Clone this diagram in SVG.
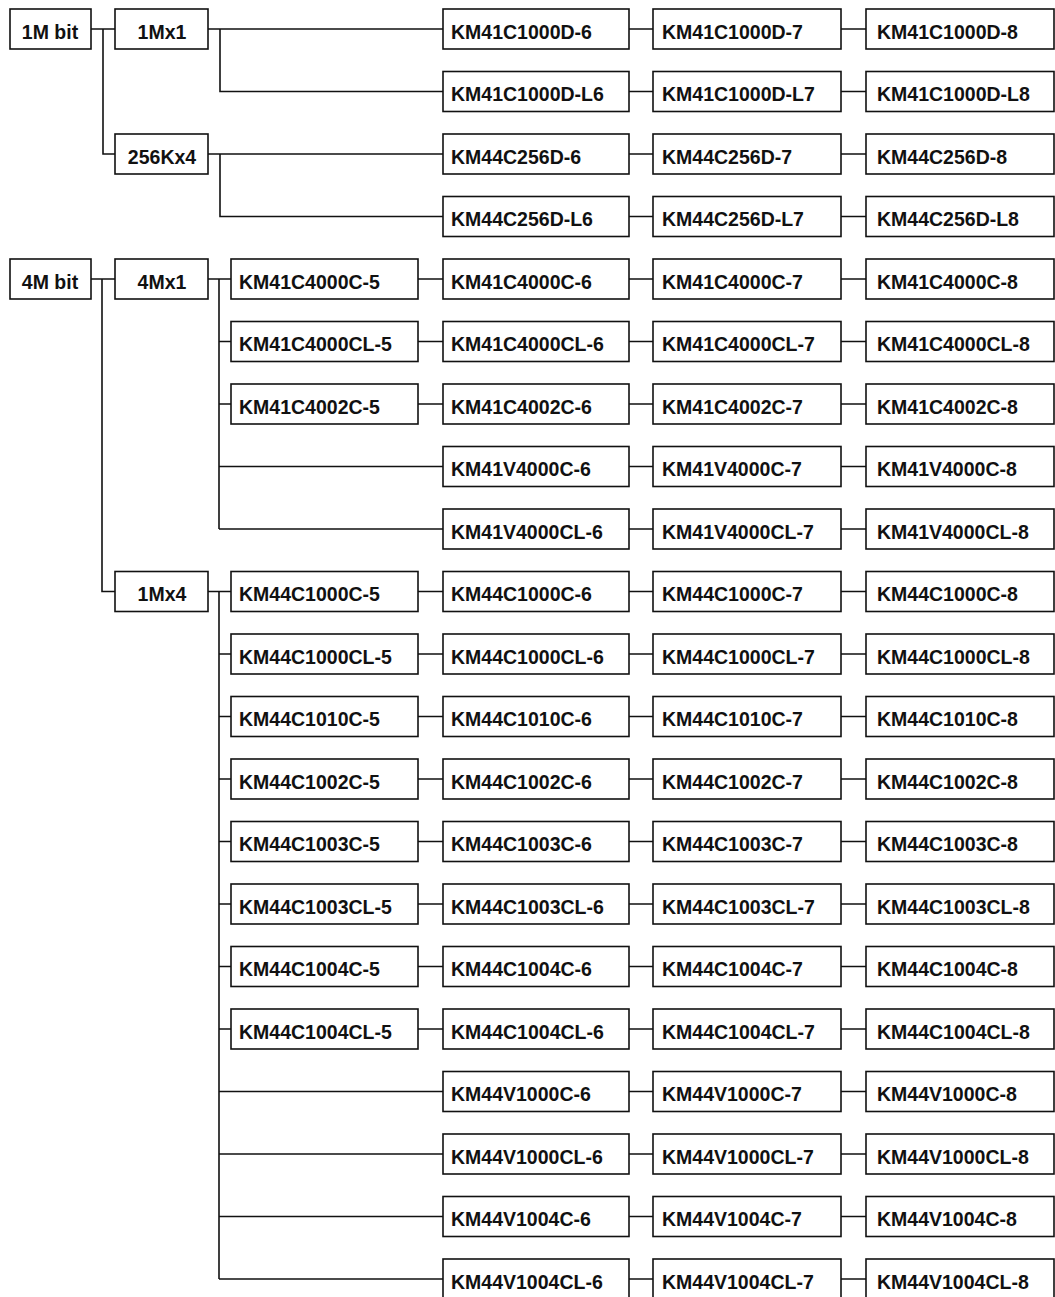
<svg xmlns="http://www.w3.org/2000/svg" width="1055" height="1297" viewBox="0 0 1055 1297">
<style>
rect{fill:#fff;stroke:#111;stroke-width:1.6}
text{font-family:"Liberation Sans",Arial,sans-serif;font-weight:bold;font-size:19.5px;fill:#111}
.c{text-anchor:middle}
#connectors path{fill:none;stroke:#111;stroke-width:1.6}
</style>
<rect x="0" y="0" width="1055" height="1297" style="stroke:none"/>
<g id="connectors">
<path d="M91 29H115M103 29V154H115M208 29H443M220 29V91.5H443M208 154H443M220 154V216.5H443"/>
<path d="M90 279H115M102 279V591.5H115M208 279H231M219 279V529M219 341.5H231M219 404H231M219 466.5H443M219 529H443"/>
<path d="M208 591.5H231M219 591.5V1279M219 654H231M219 716.5H231M219 779H231M219 841.5H231M219 904H231M219 966.5H231M219 1029H231M219 1091.5H443M219 1154H443M219 1216.5H443M219 1279H443"/>
<path d="M418 279H443M418 341.5H443M418 404H443M418 591.5H443M418 654H443M418 716.5H443M418 779H443M418 841.5H443M418 904H443M418 966.5H443M418 1029H443"/>
<path d="M629 29H653M629 91.5H653M629 154H653M629 216.5H653M629 279H653M629 341.5H653M629 404H653M629 466.5H653M629 529H653M629 591.5H653M629 654H653M629 716.5H653M629 779H653M629 841.5H653M629 904H653M629 966.5H653M629 1029H653M629 1091.5H653M629 1154H653M629 1216.5H653M629 1279H653"/>
<path d="M841 29H866M841 91.5H866M841 154H866M841 216.5H866M841 279H866M841 341.5H866M841 404H866M841 466.5H866M841 529H866M841 591.5H866M841 654H866M841 716.5H866M841 779H866M841 841.5H866M841 904H866M841 966.5H866M841 1029H866M841 1091.5H866M841 1154H866M841 1216.5H866M841 1279H866"/>
</g>
<g id="n1Mbit"><rect x="10" y="9" width="81" height="40"/><text class="c" x="50" y="38.5">1M bit</text></g>
<g id="n1Mx1"><rect x="115" y="9" width="93" height="40"/><text class="c" x="162" y="38.5">1Mx1</text></g>
<g id="n256Kx4"><rect x="115" y="134" width="93" height="40"/><text class="c" x="162" y="163.5">256Kx4</text></g>
<g id="n4Mbit"><rect x="10" y="259" width="81" height="40"/><text class="c" x="50" y="288.5">4M bit</text></g>
<g id="n4Mx1"><rect x="115" y="259" width="93" height="40"/><text class="c" x="162" y="288.5">4Mx1</text></g>
<g id="n1Mx4"><rect x="115" y="571.5" width="93" height="40"/><text class="c" x="162" y="601">1Mx4</text></g>

<g id="r0c1"><rect x="443" y="9" width="186" height="40"/><text x="451" y="38.5">KM41C1000D-6</text></g>
<g id="r0c2"><rect x="653" y="9" width="188" height="40"/><text x="662" y="38.5">KM41C1000D-7</text></g>
<g id="r0c3"><rect x="866" y="9" width="188" height="40"/><text x="877" y="38.5">KM41C1000D-8</text></g>
<g id="r1c1"><rect x="443" y="71.5" width="186" height="40"/><text x="451" y="101">KM41C1000D-L6</text></g>
<g id="r1c2"><rect x="653" y="71.5" width="188" height="40"/><text x="662" y="101">KM41C1000D-L7</text></g>
<g id="r1c3"><rect x="866" y="71.5" width="188" height="40"/><text x="877" y="101">KM41C1000D-L8</text></g>
<g id="r2c1"><rect x="443" y="134" width="186" height="40"/><text x="451" y="163.5">KM44C256D-6</text></g>
<g id="r2c2"><rect x="653" y="134" width="188" height="40"/><text x="662" y="163.5">KM44C256D-7</text></g>
<g id="r2c3"><rect x="866" y="134" width="188" height="40"/><text x="877" y="163.5">KM44C256D-8</text></g>
<g id="r3c1"><rect x="443" y="196.5" width="186" height="40"/><text x="451" y="226">KM44C256D-L6</text></g>
<g id="r3c2"><rect x="653" y="196.5" width="188" height="40"/><text x="662" y="226">KM44C256D-L7</text></g>
<g id="r3c3"><rect x="866" y="196.5" width="188" height="40"/><text x="877" y="226">KM44C256D-L8</text></g>

<g id="r4c0"><rect x="231" y="259" width="187" height="40"/><text x="239" y="288.5">KM41C4000C-5</text></g>
<g id="r4c1"><rect x="443" y="259" width="186" height="40"/><text x="451" y="288.5">KM41C4000C-6</text></g>
<g id="r4c2"><rect x="653" y="259" width="188" height="40"/><text x="662" y="288.5">KM41C4000C-7</text></g>
<g id="r4c3"><rect x="866" y="259" width="188" height="40"/><text x="877" y="288.5">KM41C4000C-8</text></g>
<g id="r5c0"><rect x="231" y="321.5" width="187" height="40"/><text x="239" y="351">KM41C4000CL-5</text></g>
<g id="r5c1"><rect x="443" y="321.5" width="186" height="40"/><text x="451" y="351">KM41C4000CL-6</text></g>
<g id="r5c2"><rect x="653" y="321.5" width="188" height="40"/><text x="662" y="351">KM41C4000CL-7</text></g>
<g id="r5c3"><rect x="866" y="321.5" width="188" height="40"/><text x="877" y="351">KM41C4000CL-8</text></g>
<g id="r6c0"><rect x="231" y="384" width="187" height="40"/><text x="239" y="413.5">KM41C4002C-5</text></g>
<g id="r6c1"><rect x="443" y="384" width="186" height="40"/><text x="451" y="413.5">KM41C4002C-6</text></g>
<g id="r6c2"><rect x="653" y="384" width="188" height="40"/><text x="662" y="413.5">KM41C4002C-7</text></g>
<g id="r6c3"><rect x="866" y="384" width="188" height="40"/><text x="877" y="413.5">KM41C4002C-8</text></g>
<g id="r7c1"><rect x="443" y="446.5" width="186" height="40"/><text x="451" y="476">KM41V4000C-6</text></g>
<g id="r7c2"><rect x="653" y="446.5" width="188" height="40"/><text x="662" y="476">KM41V4000C-7</text></g>
<g id="r7c3"><rect x="866" y="446.5" width="188" height="40"/><text x="877" y="476">KM41V4000C-8</text></g>
<g id="r8c1"><rect x="443" y="509" width="186" height="40"/><text x="451" y="538.5">KM41V4000CL-6</text></g>
<g id="r8c2"><rect x="653" y="509" width="188" height="40"/><text x="662" y="538.5">KM41V4000CL-7</text></g>
<g id="r8c3"><rect x="866" y="509" width="188" height="40"/><text x="877" y="538.5">KM41V4000CL-8</text></g>

<g id="r9c0"><rect x="231" y="571.5" width="187" height="40"/><text x="239" y="601">KM44C1000C-5</text></g>
<g id="r9c1"><rect x="443" y="571.5" width="186" height="40"/><text x="451" y="601">KM44C1000C-6</text></g>
<g id="r9c2"><rect x="653" y="571.5" width="188" height="40"/><text x="662" y="601">KM44C1000C-7</text></g>
<g id="r9c3"><rect x="866" y="571.5" width="188" height="40"/><text x="877" y="601">KM44C1000C-8</text></g>
<g id="r10c0"><rect x="231" y="634" width="187" height="40"/><text x="239" y="663.5">KM44C1000CL-5</text></g>
<g id="r10c1"><rect x="443" y="634" width="186" height="40"/><text x="451" y="663.5">KM44C1000CL-6</text></g>
<g id="r10c2"><rect x="653" y="634" width="188" height="40"/><text x="662" y="663.5">KM44C1000CL-7</text></g>
<g id="r10c3"><rect x="866" y="634" width="188" height="40"/><text x="877" y="663.5">KM44C1000CL-8</text></g>
<g id="r11c0"><rect x="231" y="696.5" width="187" height="40"/><text x="239" y="726">KM44C1010C-5</text></g>
<g id="r11c1"><rect x="443" y="696.5" width="186" height="40"/><text x="451" y="726">KM44C1010C-6</text></g>
<g id="r11c2"><rect x="653" y="696.5" width="188" height="40"/><text x="662" y="726">KM44C1010C-7</text></g>
<g id="r11c3"><rect x="866" y="696.5" width="188" height="40"/><text x="877" y="726">KM44C1010C-8</text></g>
<g id="r12c0"><rect x="231" y="759" width="187" height="40"/><text x="239" y="788.5">KM44C1002C-5</text></g>
<g id="r12c1"><rect x="443" y="759" width="186" height="40"/><text x="451" y="788.5">KM44C1002C-6</text></g>
<g id="r12c2"><rect x="653" y="759" width="188" height="40"/><text x="662" y="788.5">KM44C1002C-7</text></g>
<g id="r12c3"><rect x="866" y="759" width="188" height="40"/><text x="877" y="788.5">KM44C1002C-8</text></g>
<g id="r13c0"><rect x="231" y="821.5" width="187" height="40"/><text x="239" y="851">KM44C1003C-5</text></g>
<g id="r13c1"><rect x="443" y="821.5" width="186" height="40"/><text x="451" y="851">KM44C1003C-6</text></g>
<g id="r13c2"><rect x="653" y="821.5" width="188" height="40"/><text x="662" y="851">KM44C1003C-7</text></g>
<g id="r13c3"><rect x="866" y="821.5" width="188" height="40"/><text x="877" y="851">KM44C1003C-8</text></g>
<g id="r14c0"><rect x="231" y="884" width="187" height="40"/><text x="239" y="913.5">KM44C1003CL-5</text></g>
<g id="r14c1"><rect x="443" y="884" width="186" height="40"/><text x="451" y="913.5">KM44C1003CL-6</text></g>
<g id="r14c2"><rect x="653" y="884" width="188" height="40"/><text x="662" y="913.5">KM44C1003CL-7</text></g>
<g id="r14c3"><rect x="866" y="884" width="188" height="40"/><text x="877" y="913.5">KM44C1003CL-8</text></g>
<g id="r15c0"><rect x="231" y="946.5" width="187" height="40"/><text x="239" y="976">KM44C1004C-5</text></g>
<g id="r15c1"><rect x="443" y="946.5" width="186" height="40"/><text x="451" y="976">KM44C1004C-6</text></g>
<g id="r15c2"><rect x="653" y="946.5" width="188" height="40"/><text x="662" y="976">KM44C1004C-7</text></g>
<g id="r15c3"><rect x="866" y="946.5" width="188" height="40"/><text x="877" y="976">KM44C1004C-8</text></g>
<g id="r16c0"><rect x="231" y="1009" width="187" height="40"/><text x="239" y="1038.5">KM44C1004CL-5</text></g>
<g id="r16c1"><rect x="443" y="1009" width="186" height="40"/><text x="451" y="1038.5">KM44C1004CL-6</text></g>
<g id="r16c2"><rect x="653" y="1009" width="188" height="40"/><text x="662" y="1038.5">KM44C1004CL-7</text></g>
<g id="r16c3"><rect x="866" y="1009" width="188" height="40"/><text x="877" y="1038.5">KM44C1004CL-8</text></g>
<g id="r17c1"><rect x="443" y="1071.5" width="186" height="40"/><text x="451" y="1101">KM44V1000C-6</text></g>
<g id="r17c2"><rect x="653" y="1071.5" width="188" height="40"/><text x="662" y="1101">KM44V1000C-7</text></g>
<g id="r17c3"><rect x="866" y="1071.5" width="188" height="40"/><text x="877" y="1101">KM44V1000C-8</text></g>
<g id="r18c1"><rect x="443" y="1134" width="186" height="40"/><text x="451" y="1163.5">KM44V1000CL-6</text></g>
<g id="r18c2"><rect x="653" y="1134" width="188" height="40"/><text x="662" y="1163.5">KM44V1000CL-7</text></g>
<g id="r18c3"><rect x="866" y="1134" width="188" height="40"/><text x="877" y="1163.5">KM44V1000CL-8</text></g>
<g id="r19c1"><rect x="443" y="1196.5" width="186" height="40"/><text x="451" y="1226">KM44V1004C-6</text></g>
<g id="r19c2"><rect x="653" y="1196.5" width="188" height="40"/><text x="662" y="1226">KM44V1004C-7</text></g>
<g id="r19c3"><rect x="866" y="1196.5" width="188" height="40"/><text x="877" y="1226">KM44V1004C-8</text></g>
<g id="r20c1"><rect x="443" y="1259" width="186" height="40"/><text x="451" y="1288.5">KM44V1004CL-6</text></g>
<g id="r20c2"><rect x="653" y="1259" width="188" height="40"/><text x="662" y="1288.5">KM44V1004CL-7</text></g>
<g id="r20c3"><rect x="866" y="1259" width="188" height="40"/><text x="877" y="1288.5">KM44V1004CL-8</text></g>
</svg>
